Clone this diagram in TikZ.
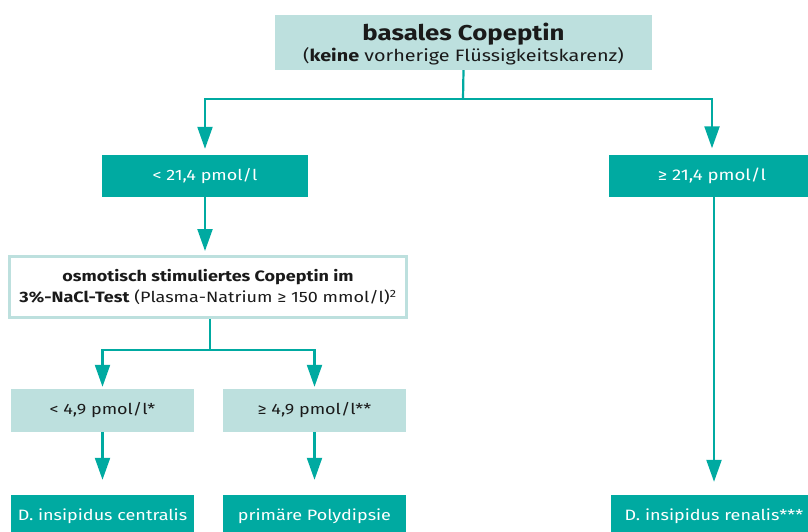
\documentclass[tikz,border=0pt]{standalone}
\usepackage{fontspec}
\setmainfont{Fira Sans}[FakeStretch=1.2]
\usetikzlibrary{arrows.meta}
\definecolor{teal1}{RGB}{0,170,161}
\definecolor{teal2}{RGB}{189,224,222}
\definecolor{txt}{RGB}{26,26,26}
\begin{document}
\begin{tikzpicture}[x=1pt,y=-1pt,
  dark/.style={fill=teal1,text=white,inner sep=0pt,anchor=center,font=\fontsize{15}{18}\selectfont},
  light/.style={fill=teal2,text=txt,inner sep=0pt,anchor=center,font=\fontsize{15}{18}\selectfont},
  conn/.style={draw=teal1,line width=2.2pt},
  arr/.style={conn,-{Triangle[width=15pt,length=22pt]}}]
\useasboundingbox (0,0) rectangle (808,531);
\clip (0,0) rectangle (808,531);
% nodes
\node[light,minimum width=377pt,minimum height=55pt,text=txt] (top) at (463.5,42.5) {};
\node[text=txt,align=center,inner sep=0pt] (toptext) at (463.5,44)
  {{\fontsize{21.5}{24}\selectfont\bfseries basales Copeptin}\\[1pt]
   {\fontsize{16.5}{19}\selectfont(\textbf{keine} vorherige Flüssigkeitskarenz)}};
\node[dark,minimum width=206pt,minimum height=42pt] (lt) at (205,176) {< 21,4 pmol/l};
\node[dark,minimum width=206pt,minimum height=42pt,font=\fontsize{15.5}{18}\selectfont] (rt) at (712,175.5) {≥ 21,4 pmol/l};
\node[draw=teal2,line width=3pt,fill=white,minimum width=397pt,minimum height=61pt,inner sep=0pt,
  align=center,text=txt,font=\fontsize{15}{21}\selectfont] (osm) at (208,287)
  {\textbf{osmotisch stimuliertes Copeptin im}\\
   \textbf{3\%-NaCl-Test} (Plasma-Natrium ≥ 150 mmol/l)\textsuperscript{2}};
\node[light,minimum width=183pt,minimum height=43pt] (m1) at (102.5,410.5) {< 4,9 pmol/l*};
\node[light,minimum width=183pt,minimum height=43pt] (m2) at (314.5,410.5) {≥ 4,9 pmol/l**};
\node[dark,minimum width=183pt,minimum height=42pt] (b1) at (102.5,516) {D. insipidus centralis};
\node[dark,minimum width=183pt,minimum height=42pt] (b2) at (314.5,516) {primäre Polydipsie};
\node[dark,minimum width=206pt,minimum height=42pt] (b3) at (714,516) {D. insipidus renalis***};
% junctions
\coordinate (j1) at (463,99);
\coordinate (j2) at (210,350);
% connectors
\draw[conn] (top.south) -- (j1);
\draw[arr,shorten >=6pt] (j1) -| (lt.north);
\draw[arr,shorten >=6pt] (j1) -| (rt.north);
\draw[arr,shorten >=4pt] (lt.south) -- (lt.south |- osm.north);
\draw[conn] (j2 |- osm.south) -- (j2);
\draw[arr,shorten >=2pt] (j2) -| (m1.north);
\draw[arr,shorten >=2pt] (j2) -| (m2.north);
\draw[arr,shorten >=15pt] (m1.south) -- (b1.north);
\draw[arr,shorten >=15pt] (m2.south) -- (b2.north);
\draw[arr,shorten >=13pt] (rt.south -| b3.north) -- (b3.north);
\end{tikzpicture}
\end{document}
